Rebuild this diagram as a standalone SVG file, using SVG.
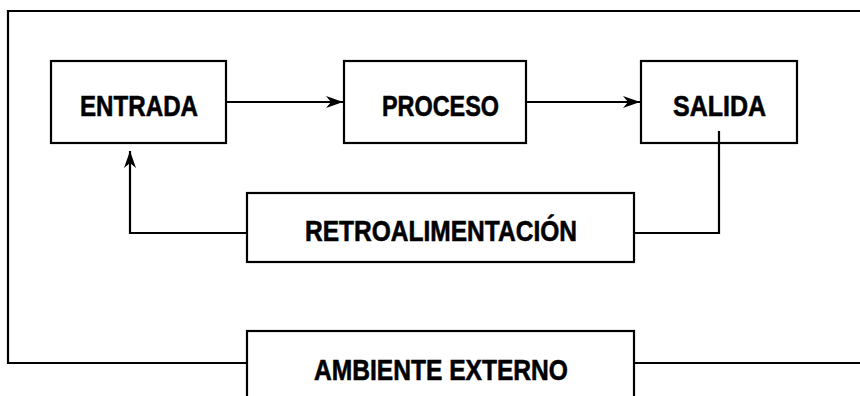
<svg xmlns="http://www.w3.org/2000/svg" width="860" height="396" viewBox="0 0 860 396">
<style>
.box{fill:#fff;stroke:#000;stroke-width:2.2}
.ln{fill:none;stroke:#000;stroke-width:2.2}
.t{font-family:"Liberation Sans",Arial,sans-serif;font-weight:bold;font-size:30px;fill:#000;stroke:#000;stroke-width:0.6}
</style>
<defs>
<marker id="arr" markerUnits="userSpaceOnUse" markerWidth="20" markerHeight="14" viewBox="-18 -7 20 14" refX="0" refY="0" orient="auto">
<path d="M0,0 L-17,-6 L-12,0 L-17,6 Z" fill="#000"/>
</marker>
</defs>
<rect width="860" height="396" fill="#fff"/>
<g id="connectors">
<polyline class="ln" points="247,363 8,363 8,11 861,11"/>
<line class="ln" x1="634" y1="363" x2="861" y2="363"/>
<line class="ln" x1="226" y1="102" x2="343" y2="102" marker-end="url(#arr)"/>
<line class="ln" x1="526" y1="102" x2="640" y2="102" marker-end="url(#arr)"/>
<polyline class="ln" points="719,131 719,233 634,233"/>
<polyline class="ln" points="247,233 130,233 130,151" marker-end="url(#arr)"/>
</g>
<g id="entrada">
<rect class="box" x="51" y="61" width="175" height="82"/>
<text class="t" x="80" y="115.5" textLength="118" lengthAdjust="spacingAndGlyphs">ENTRADA</text>
</g>
<g id="proceso">
<rect class="box" x="344" y="61" width="182" height="82"/>
<text class="t" x="382" y="115.5" textLength="117" lengthAdjust="spacingAndGlyphs">PROCESO</text>
</g>
<g id="salida">
<rect class="box" x="641" y="61" width="156" height="82"/>
<text class="t" x="673" y="115.5" textLength="93" lengthAdjust="spacingAndGlyphs">SALIDA</text>
<line class="ln" x1="719" y1="131" x2="719" y2="143"/>
</g>
<g id="retroalimentacion">
<rect class="box" x="247" y="193" width="387" height="69"/>
<text class="t" x="305" y="241" textLength="272" lengthAdjust="spacingAndGlyphs">RETROALIMENTACIÓN</text>
</g>
<g id="ambiente">
<rect class="box" x="247" y="331" width="387" height="80"/>
<text class="t" x="314" y="380" textLength="254" lengthAdjust="spacingAndGlyphs">AMBIENTE EXTERNO</text>
</g>
</svg>
